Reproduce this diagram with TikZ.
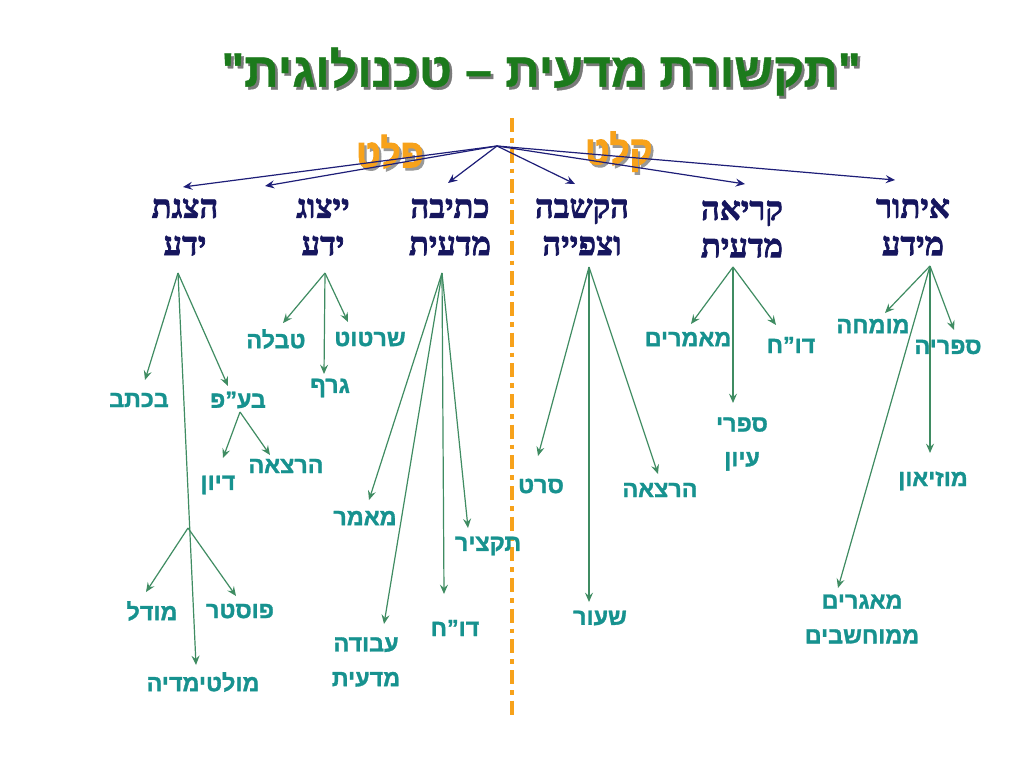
\documentclass[tikz,border=0pt]{standalone}
\usepackage{fontspec}
\setmainfont{Liberation Sans}
\newfontfamily\hebsans[Script=Hebrew,FakeBold=1.3]{Liberation Sans Bold}
\newfontfamily\hebtitle[Script=Hebrew,FakeBold=0.8]{Liberation Sans Bold}
\newfontfamily\hebio[Script=Hebrew,FakeBold=2.5]{Liberation Sans Bold}
\newfontfamily\hebserif[Script=Hebrew,FakeBold=2.2]{Liberation Serif Bold}
\TeXXeTstate=1
\usetikzlibrary{arrows.meta}
\newcommand{\shadowed}[3]{\makebox[0pt][l]{\kern #3\raisebox{-#3}{\color{#1}#2}}#2}
\definecolor{titlegreen}{HTML}{1C7A1C}
\definecolor{hdrnavy}{HTML}{16165E}
\definecolor{arrnavy}{HTML}{1E1E78}
\definecolor{leafteal}{HTML}{17928F}
\definecolor{arrgreen}{HTML}{3F8C62}
\definecolor{orng}{HTML}{F7A21B}
\definecolor{shadowgray}{HTML}{7A7A7A}
\tikzset{
  hdr/.style={font=\hebserif\fontsize{24.5}{28}\selectfont, text=hdrnavy, align=center, inner sep=0pt},
  leaf/.style={font=\hebsans\fontsize{17.5}{26}\selectfont, text=leafteal, align=center, inner sep=0pt},
  iolabel/.style={font=\hebio\fontsize{30}{32}\selectfont, text=orng, inner sep=0pt},
  navyarr/.style={draw=arrnavy, line width=0.9pt, -{Stealth[length=7pt,width=6pt,inset=2.5pt]}},
  garr/.style={draw=arrgreen, line width=0.9pt, -{Stealth[length=7pt,width=6pt,inset=2.5pt]}},
}
\begin{document}
\begin{tikzpicture}[x=0.75pt,y=-0.75pt]
\useasboundingbox (0,0) rectangle (1024,768);
\fill[white] (0,0) rectangle (1024,768);
% title
\node[font=\hebtitle\fontsize{36}{40}\selectfont, text=titlegreen, inner sep=0pt] (title) at (541,73) {\shadowed{shadowgray}{\beginR"תקשורת מדעית – טכנולוגית"\endR}{2pt}};
% divider
\coordinate (dtop) at (512,118);
\coordinate (dbot) at (512,718);
\draw[orng, line width=3pt, dash pattern=on 10.5pt off 4.5pt on 3.5pt off 4.5pt] (dtop) -- (dbot);
% output / input labels
\node[iolabel] (out) at (390,153) {\scalebox{0.88}[1]{\shadowed{black!40}{\beginR פלט\endR}{2pt}}};
\node[iolabel] (in) at (619,153) {\scalebox{0.88}[1]{\shadowed{black!40}{\beginR קלט\endR}{2pt}}};
% headers
\node[hdr] (h1) at (185,227) {\beginR הצגת\endR\\\beginR ידע\endR};
\node[hdr] (h2) at (323,227) {\beginR ייצוג\endR\\\beginR ידע\endR};
\node[hdr] (h3) at (450,227) {\beginR כתיבה\endR\\\beginR מדעית\endR};
\node[hdr] (h4) at (582,227) {\beginR הקשבה\endR\\\beginR וצפייה\endR};
\node[hdr] (h5) at (742,229) {\beginR קריאה\endR\\\beginR מדעית\endR};
\node[hdr] (h6) at (913,227) {\beginR איתור\endR\\\beginR מידע\endR};
% hub arrows
\coordinate (hub) at (497,146);
\coordinate (t1) at (183,187);
\coordinate (t2) at (265,186);
\coordinate (t3) at (448,183);
\coordinate (t4) at (575,184);
\coordinate (t5) at (745,184);
\coordinate (t6) at (895,180);
\foreach \t in {t1,t2,t3,t4,t5,t6} \draw[navyarr] (hub) -- (\t);
% ---- column 1
\coordinate (c1) at (178,273);
\node[leaf] (bktav) at (139,400) {\beginR בכתב\endR};
\node[leaf] (bap) at (238,400) {\beginR בע”פ\endR};
\node[leaf] (multi) at (203,682) {\beginR מולטימדיה\endR};
\node[leaf] (diyun) at (218,485) {\beginR דיון\endR};
\node[leaf] (harz1) at (286,466) {\beginR הרצאה\endR};
\node[leaf] (model) at (152,611) {\beginR מודל\endR};
\node[leaf] (poster) at (240,611) {\beginR פוסטר\endR};
\coordinate (c1b) at (240,412);
\coordinate (c1c) at (188,528);
\draw[garr] (c1) -- (145,380);
\draw[garr] (c1) -- (228,386);
\draw[garr] (c1) -- (196,665);
\draw[garr] (c1b) -- (223,458);
\draw[garr] (c1b) -- (270,455);
\draw[garr] (c1c) -- (146,592);
\draw[garr] (c1c) -- (236,596);
% ---- column 2
\coordinate (c2) at (325,273);
\node[leaf] (tavla) at (276,339) {\beginR טבלה\endR};
\node[leaf] (sirtut) at (370,339) {\beginR שרטוט\endR};
\node[leaf] (graf) at (330,388) {\beginR גרף\endR};
\draw[garr] (c2) -- (283,323);
\draw[garr] (c2) -- (348,322);
\draw[garr] (c2) -- (324,374);
% ---- column 3
\coordinate (c3) at (442,273);
\node[leaf] (maamar) at (365,518) {\beginR מאמר\endR};
\node[leaf] (avoda) at (366,662) {\beginR עבודה\endR\\\beginR מדעית\endR};
\node[leaf] (doch1) at (455,628) {\beginR דו”ח\endR};
\node[leaf] (takzir) at (488,546) {\beginR תקציר\endR};
\draw[garr] (c3) -- (369,500);
\draw[garr] (c3) -- (384,624);
\draw[garr] (c3) -- (444,594);
\draw[garr] (c3) -- (468,528);
% ---- column 4
\coordinate (c4) at (589,267);
\node[leaf] (seret) at (541,486) {\beginR סרט\endR};
\node[leaf] (shiur) at (600,618) {\beginR שעור\endR};
\node[leaf] (harz2) at (660,490) {\beginR הרצאה\endR};
\draw[garr] (c4) -- (538,456);
\draw[garr] (c4) -- (589,602);
\draw[garr] (c4) -- (658,474);
% ---- column 5
\coordinate (c5) at (733,267);
\node[leaf] (maamarim) at (688,339) {\beginR מאמרים\endR};
\node[leaf] (sifrei) at (742,444) {\beginR ספרי\endR\\\beginR עיון\endR};
\node[leaf] (doch2) at (791,345) {\beginR דו”ח\endR};
\draw[garr] (c5) -- (691,324);
\draw[garr] (c5) -- (733,403);
\draw[garr] (c5) -- (776,325);
% ---- column 6
\coordinate (c6) at (930,266);
\node[leaf] (mumche) at (873,326) {\beginR מומחה\endR};
\node[leaf] (sifriya) at (948,347) {\beginR ספריה\endR};
\node[leaf] (muzeon) at (933,481) {\beginR מוזיאון\endR};
\node[leaf] (maagarim) at (862,619) {\beginR מאגרים\endR\\\beginR ממוחשבים\endR};
\draw[garr] (c6) -- (885,313);
\draw[garr] (c6) -- (954,330);
\draw[garr] (c6) -- (930,453);
\draw[garr] (c6) -- (838,588);
\end{tikzpicture}
\end{document}
